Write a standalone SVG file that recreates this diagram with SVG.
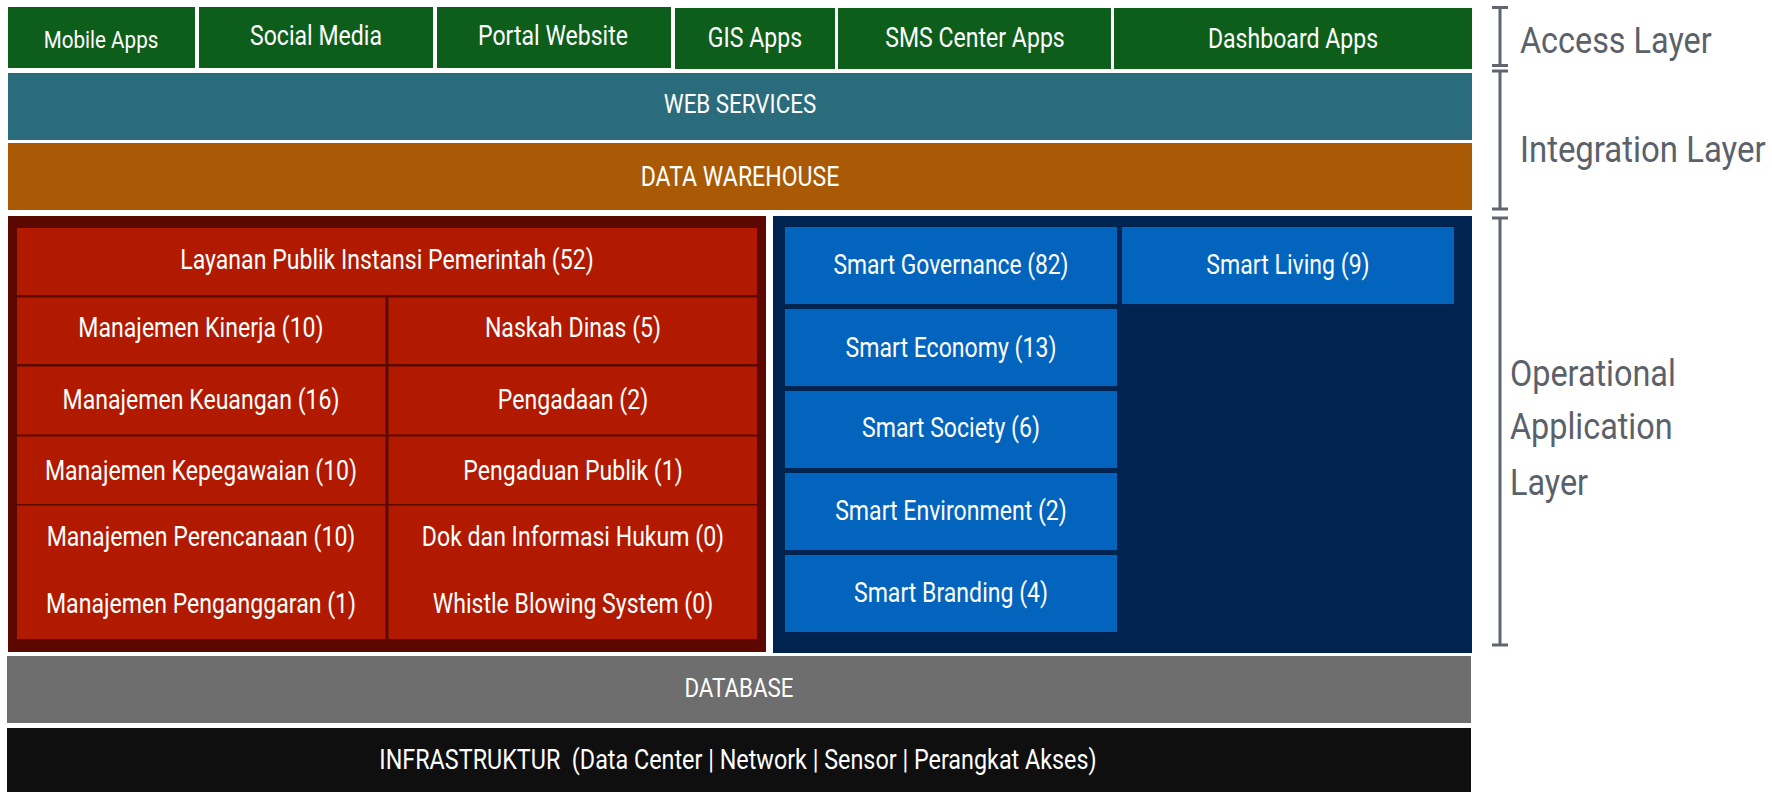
<svg xmlns="http://www.w3.org/2000/svg" width="1772" height="792" viewBox="0 0 1772 792">
<style>
text{font-family:Roboto,"Liberation Sans",sans-serif;fill:#fff;text-anchor:middle;font-size:27px}
.acc{fill:#0e5e1b}
.lbl{fill:#5b616a;text-anchor:start;font-size:37px}
.red{fill:#b21a00}
.blu{fill:#0364be}
.br{stroke:#5f6670;stroke-width:3;fill:none}
</style>
<rect width="1772" height="792" fill="#fff"/>
<g id="access">
<g id="mobile"><rect class="acc" x="8" y="7" width="187" height="61"/><text transform="translate(101 48) scale(0.86 1)" style="font-size:24px">Mobile Apps</text></g>
<g id="social"><rect class="acc" x="199" y="7" width="234" height="61"/><text transform="translate(316 45) scale(0.855 1)">Social Media</text></g>
<g id="portal"><rect class="acc" x="437" y="7" width="234" height="61"/><text transform="translate(553 45) scale(0.855 1)">Portal Website</text></g>
<g id="gis"><rect class="acc" x="675" y="8" width="160" height="61"/><text transform="translate(755 47) scale(0.855 1)">GIS Apps</text></g>
<g id="sms"><rect class="acc" x="838" y="8" width="273" height="61"/><text transform="translate(975 47) scale(0.855 1)">SMS Center Apps</text></g>
<g id="dashboard"><rect class="acc" x="1114" y="8" width="358" height="61"/><text transform="translate(1293 48) scale(0.855 1)">Dashboard Apps</text></g>
</g>
<g id="webservices"><rect x="8" y="73" width="1464" height="67" fill="#2a6c7c"/><text transform="translate(740 113) scale(0.86 1)" style="font-size:26px">WEB SERVICES</text></g>
<g id="datawarehouse"><rect x="8" y="143" width="1464" height="67" fill="#aa5a04"/><text transform="translate(740 186) scale(0.855 1)">DATA WAREHOUSE</text></g>
<g id="government">
<rect x="8" y="216" width="758" height="436" fill="#5a0800"/>
<g id="layanan"><rect class="red" x="17" y="228" width="740" height="67"/><text transform="translate(387 269) scale(0.855 1)">Layanan Publik Instansi Pemerintah (52)</text></g>
<g id="kinerja"><rect class="red" x="17" y="297.5" width="368.5" height="66.5"/><text transform="translate(201 337) scale(0.855 1)">Manajemen Kinerja (10)</text></g>
<g id="naskah"><rect class="red" x="388.5" y="297.5" width="368.5" height="66.5"/><text transform="translate(573 337) scale(0.855 1)">Naskah Dinas (5)</text></g>
<g id="keuangan"><rect class="red" x="17" y="366.5" width="368.5" height="68"/><text transform="translate(201 409) scale(0.855 1)">Manajemen Keuangan (16)</text></g>
<g id="pengadaan"><rect class="red" x="388.5" y="366.5" width="368.5" height="68"/><text transform="translate(573 409) scale(0.855 1)">Pengadaan (2)</text></g>
<g id="kepegawaian"><rect class="red" x="17" y="436.5" width="368.5" height="67.5"/><text transform="translate(201 480) scale(0.855 1)">Manajemen Kepegawaian (10)</text></g>
<g id="pengaduan"><rect class="red" x="388.5" y="436.5" width="368.5" height="67.5"/><text transform="translate(573 480) scale(0.855 1)">Pengaduan Publik (1)</text></g>
<g id="perencanaan"><rect class="red" x="17" y="505.5" width="368.5" height="133.5"/><text transform="translate(201 546) scale(0.855 1)">Manajemen Perencanaan (10)</text><text transform="translate(201 613) scale(0.855 1)">Manajemen Penganggaran (1)</text></g>
<g id="hukum"><rect class="red" x="388.5" y="505.5" width="368.5" height="133.5"/><text transform="translate(573 546) scale(0.855 1)">Dok dan Informasi Hukum (0)</text><text transform="translate(573 613) scale(0.855 1)">Whistle Blowing System (0)</text></g>
</g>
<g id="smartcity">
<rect x="773" y="216" width="699" height="437" fill="#002350"/>
<g id="governance"><rect class="blu" x="785" y="227" width="332" height="77"/><text transform="translate(951 274) scale(0.845 1)">Smart Governance (82)</text></g>
<g id="living"><rect class="blu" x="1122" y="227" width="332" height="77"/><text transform="translate(1288 274) scale(0.855 1)">Smart Living (9)</text></g>
<g id="economy"><rect class="blu" x="785" y="309" width="332" height="77"/><text transform="translate(951 357) scale(0.855 1)">Smart Economy (13)</text></g>
<g id="society"><rect class="blu" x="785" y="391" width="332" height="77"/><text transform="translate(951 437) scale(0.855 1)">Smart Society (6)</text></g>
<g id="environment"><rect class="blu" x="785" y="473" width="332" height="77"/><text transform="translate(951 520) scale(0.855 1)">Smart Environment (2)</text></g>
<g id="branding"><rect class="blu" x="785" y="555" width="332" height="77"/><text transform="translate(951 602) scale(0.855 1)">Smart Branding (4)</text></g>
</g>
<g id="database"><rect x="7" y="656" width="1464" height="67" fill="#6e6e6e"/><text transform="translate(739 697) scale(0.86 1)" style="font-size:26px">DATABASE</text></g>
<g id="infra"><rect x="7" y="728" width="1464" height="64" fill="#0f0f0f"/><text transform="translate(738 769) scale(0.865 1)" xml:space="preserve">INFRASTRUKTUR  (Data Center | Network | Sensor | Perangkat Akses)</text></g>
<g id="connectors">
<path class="br" d="M1500 7.5V65.5M1492 7.5H1508M1492 65.5H1508"/>
<path class="br" d="M1500 71V209M1492 71H1508M1492 209H1508"/>
<path class="br" d="M1500 218V645M1492 218H1508M1492 645H1508"/>
</g>
<g id="labels">
<text class="lbl" transform="translate(1520 53) scale(0.875 1)">Access Layer</text>
<text class="lbl" transform="translate(1520 162) scale(0.89 1)">Integration Layer</text>
<text class="lbl" transform="translate(1510 386) scale(0.875 1)">Operational</text>
<text class="lbl" transform="translate(1510 439) scale(0.875 1)">Application</text>
<text class="lbl" transform="translate(1510 495) scale(0.875 1)">Layer</text>
</g>
</svg>
